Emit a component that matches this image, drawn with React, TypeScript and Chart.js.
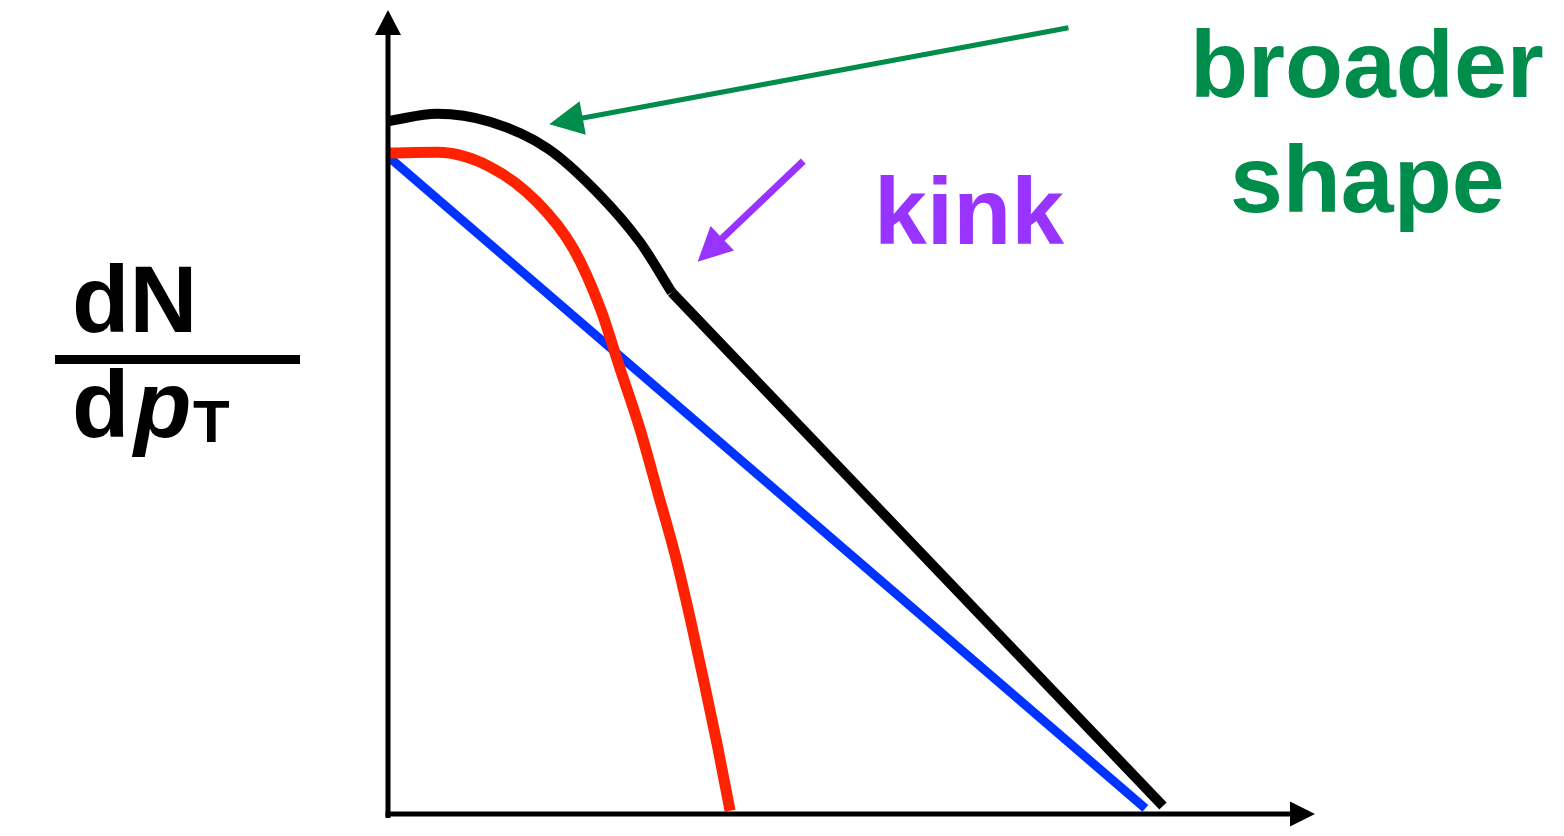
import React, { useEffect, useRef } from "react";
import { Chart, registerables } from "chart.js";

Chart.register(...registerables);

// Schematic pT spectrum (arbitrary units)
const blackCurveX = [0.01, 0.53, 1.10, 1.72, 2.25, 2.72, 3.06];
const blackCurveY = [8.62, 8.71, 8.61, 8.28, 7.74, 7.11, 6.49];
const blackTailX = [3.06, 8.36];
const blackTailY = [6.49, 0.10];
const redX = [0.01, 0.53, 1.10, 1.61, 2.00, 2.29, 2.50, 2.72, 2.91, 3.10, 3.26, 3.40, 3.55, 3.69];
const redY = [8.22, 8.23, 8.05, 7.61, 7.03, 6.29, 5.55, 4.78, 4.00, 3.21, 2.43, 1.69, 0.87, 0.04];
const blueX = [0.0, 8.17];
const blueY = [8.18, 0.07];

// annotation arrows: [fromX, fromY, tipX, tipY]
const greenArrow = [7.34, 9.78, 1.74, 8.58];
const purpleArrow = [4.48, 8.12, 3.34, 6.87];

const labelBroader = "broader";
const labelShape = "shape";
const labelKink = "kink";

const FONT = '"Liberation Sans", Arial, Helvetica, sans-serif';

const toPts = (xs: number[], ys: number[]) => xs.map((x, i) => ({ x, y: ys[i] }));

function drawArrow(ctx: CanvasRenderingContext2D, x1: number, y1: number, x2: number, y2: number, color: string, width: number) {
  const dx = x2 - x1;
  const dy = y2 - y1;
  const len = Math.hypot(dx, dy);
  const ux = dx / len;
  const uy = dy / len;
  const headLen = 34;
  const headHalf = 17;
  const bx = x2 - ux * headLen;
  const by = y2 - uy * headLen;
  ctx.save();
  ctx.strokeStyle = color;
  ctx.fillStyle = color;
  ctx.lineWidth = width;
  ctx.lineCap = "butt";
  ctx.beginPath();
  ctx.moveTo(x1, y1);
  ctx.lineTo(bx + ux * 4, by + uy * 4);
  ctx.stroke();
  ctx.beginPath();
  ctx.moveTo(x2, y2);
  ctx.lineTo(bx - uy * headHalf, by + ux * headHalf);
  ctx.lineTo(bx + uy * headHalf, by - ux * headHalf);
  ctx.closePath();
  ctx.fill();
  ctx.restore();
}

const decorPlugin = {
  id: "decor",
  afterDatasetsDraw(chart: any) {
    const ctx: CanvasRenderingContext2D = chart.ctx;
    const xs = chart.scales.x;
    const ys = chart.scales.y;
    const ox = xs.getPixelForValue(0);
    const oy = ys.getPixelForValue(0);
    const top = ys.getPixelForValue(10);
    const right = xs.getPixelForValue(10);
    ctx.save();
    // axes
    ctx.strokeStyle = "#000";
    ctx.fillStyle = "#000";
    ctx.lineWidth = 5;
    ctx.beginPath();
    ctx.moveTo(ox, oy + 4);
    ctx.lineTo(ox, top + 20);
    ctx.stroke();
    ctx.beginPath();
    ctx.moveTo(ox - 2.5, oy);
    ctx.lineTo(right - 20, oy);
    ctx.stroke();
    ctx.beginPath();
    ctx.moveTo(ox, top);
    ctx.lineTo(ox - 13, top + 25);
    ctx.lineTo(ox + 13, top + 25);
    ctx.closePath();
    ctx.fill();
    ctx.beginPath();
    ctx.moveTo(right, oy);
    ctx.lineTo(right - 25, oy - 12.5);
    ctx.lineTo(right - 25, oy + 12.5);
    ctx.closePath();
    ctx.fill();

    // arrows
    drawArrow(ctx, xs.getPixelForValue(greenArrow[0]), ys.getPixelForValue(greenArrow[1]),
      xs.getPixelForValue(greenArrow[2]), ys.getPixelForValue(greenArrow[3]), "#008C4B", 5);
    drawArrow(ctx, xs.getPixelForValue(purpleArrow[0]), ys.getPixelForValue(purpleArrow[1]),
      xs.getPixelForValue(purpleArrow[2]), ys.getPixelForValue(purpleArrow[3]), "#9933FF", 7);

    // labels
    ctx.textAlign = "left";
    ctx.textBaseline = "alphabetic";
    ctx.font = `bold 95px ${FONT}`;
    ctx.fillStyle = "#008C4B";
    ctx.fillText(labelBroader, 1190, 97);
    ctx.fillText(labelShape, 1230, 212);
    ctx.fillStyle = "#9933FF";
    ctx.fillText(labelKink, 874, 244);

    // y-axis label dN / dpT
    ctx.fillStyle = "#000";
    ctx.font = `bold 94px ${FONT}`;
    ctx.fillText("dN", 72, 332);
    ctx.fillRect(55, 355, 245, 9);
    ctx.fillText("d", 72, 437);
    ctx.font = `italic bold 94px ${FONT}`;
    ctx.fillText("p", 134, 437);
    ctx.font = `bold 60px ${FONT}`;
    ctx.fillText("T", 193, 442);
    ctx.restore();
  },
};

export default function App() {
  const ref = useRef<HTMLCanvasElement>(null);
  useEffect(() => {
    if (!ref.current) return;
    const chart = new Chart(ref.current, {
      type: "line",
      data: {
        datasets: [
          {
            data: toPts(blackCurveX, blackCurveY),
            borderColor: "#000000",
            borderWidth: 10,
            cubicInterpolationMode: "monotone",
            pointRadius: 0,
            borderCapStyle: "butt",
          },
          {
            data: toPts(blackTailX, blackTailY),
            borderColor: "#000000",
            borderWidth: 10,
            pointRadius: 0,
            borderCapStyle: "butt",
          },
          {
            data: toPts(redX, redY),
            borderColor: "#FF2200",
            borderWidth: 11,
            cubicInterpolationMode: "monotone",
            pointRadius: 0,
            borderCapStyle: "butt",
          },
          {
            data: toPts(blueX, blueY),
            borderColor: "#0033FF",
            borderWidth: 9,
            pointRadius: 0,
            borderCapStyle: "butt",
          },
        ],
      },
      options: {
        responsive: false,
        animation: false,
        layout: { padding: { left: 388, right: 249, top: 10, bottom: 22 } },
        plugins: { legend: { display: false }, tooltip: { enabled: false }, title: { display: false } },
        scales: {
          x: { type: "linear", min: 0, max: 10, display: false },
          y: { type: "linear", min: 0, max: 10, display: false },
        },
      },
      plugins: [decorPlugin],
    });
    return () => chart.destroy();
  }, []);
  return (
    <div style={{ position: "absolute", left: 0, top: 0, width: 1564, height: 836, background: "#fff" }}>
      <canvas ref={ref} width={1564} height={836} />
    </div>
  );
}
